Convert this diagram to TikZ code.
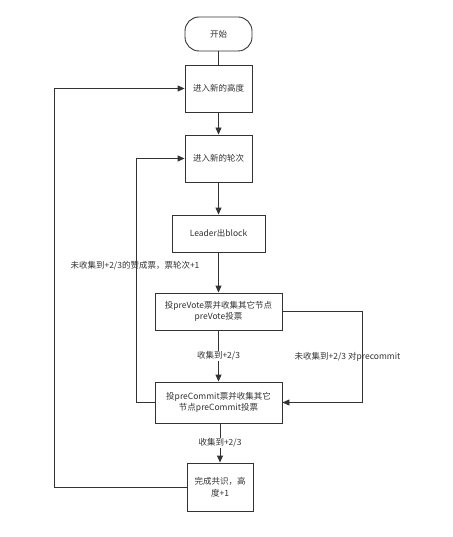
\documentclass[tikz,border=0pt]{standalone}
\usepackage{fontspec}
\setmainfont{Noto Sans CJK SC}
\usetikzlibrary{arrows.meta}
\definecolor{ln}{HTML}{333333}
\definecolor{tx}{HTML}{333333}
\tikzset{
  box/.style={draw=ln, line width=0.9pt, fill=white, text=tx, align=center, inner sep=1pt,
    font=\fontsize{8.5}{11.5}\selectfont},
  term/.style={box, rounded corners=14pt},
  conn/.style={draw=ln, line width=0.9pt},
  arr/.style={conn, -{Triangle[length=7pt,width=6pt]}},
  lbl/.style={text=tx, font=\fontsize{8.5}{11.5}\selectfont, inner sep=1pt},
  lblw/.style={lbl, fill=white}
}
\begin{document}
\begin{tikzpicture}[x=1pt,y=-1pt]
\useasboundingbox (0,0) rectangle (452,537);
\node[term, minimum width=67pt, minimum height=34pt] (start) at (218.5,34) {开始};
\node[box, minimum width=67pt, minimum height=47pt] (b1) at (218.5,88.5) {进入新的高度};
\node[box, minimum width=67pt, minimum height=47pt] (b2) at (218.5,158.5) {进入新的轮次};
\node[box, minimum width=93pt, minimum height=37pt] (lead) at (218.5,233.5) {Leader出block};
\node[box, minimum width=127pt, minimum height=37pt] (pv) at (218.5,311.5) {投preVote票并收集其它节点\\preVote投票};
\node[box, minimum width=127pt, minimum height=41pt] (pc) at (218.5,402.5) {投preCommit票并收集其它\\节点preCommit投票};
\node[box, minimum width=66pt, minimum height=48pt, text width=56pt] (fin) at (220,487) {完成共识，高\\度+1};

\coordinate (r1) at (362,311.5);
\coordinate (l1) at (54,487);
\coordinate (l2) at (136,402.5);

\draw[conn] (start) -- (b1);
\draw[arr] (b1) -- (b2);
\draw[arr] (b2) -- (lead);
\draw[arr] (lead) -- (pv);
\draw[arr] (pv) -- node[lblw] (lab1) {收集到+2/3} (pc);
\draw[arr] (pc.south -| fin.north) -- node[lblw] (lab2) {收集到+2/3} (fin.north);
\draw[arr] (pv.east) -- (r1) |- (pc.east);
\draw[arr] (fin.west) -- (l1) |- (b1.west);
\draw[arr] (pc.west) -- (l2) |- (b2.west);

\node[lbl] (lab3) at (135,266) {未收集到+2/3的赞成票，票轮次+1};
\node[lbl] (lab4) at (347.5,357) {未收集到+2/3 对precommit};
\end{tikzpicture}
\end{document}
